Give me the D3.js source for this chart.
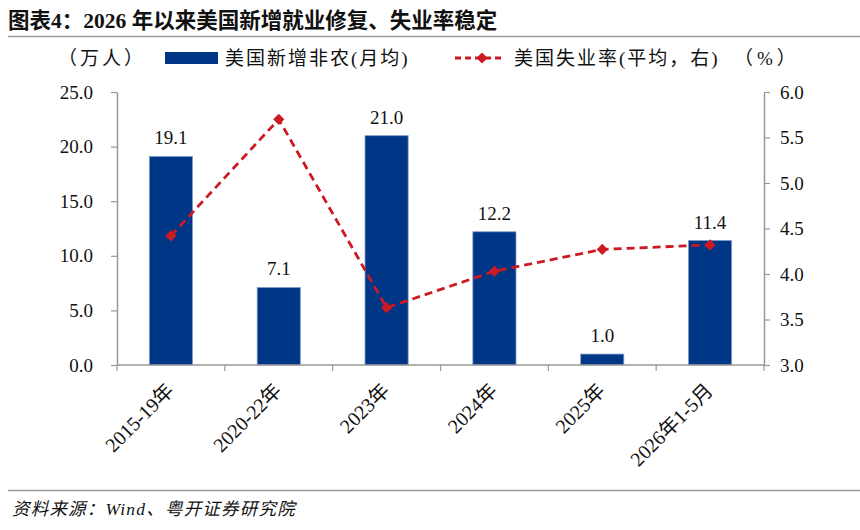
<!DOCTYPE html>
<html>
<head>
<meta charset="utf-8">
<script src="https://cdn.jsdelivr.net/npm/d3@7"></script>
<style>
  body { margin: 0; background: #fff; }
  svg text { font-family: "Liberation Serif", "Times New Roman", "Noto Sans CJK SC", serif; }
</style>
</head>
<body>
<div id="chart"></div>
<script>
const categories = ['2015-19年', '2020-22年', '2023年', '2024年', '2025年', '2026年1-5月'];
const payrolls = [19.1, 7.1, 21.0, 12.2, 1.0, 11.4];
const unemployment = [4.42, 5.7, 3.63, 4.03, 4.27, 4.32];
const leftTicks = [0, 5, 10, 15, 20, 25];
const rightTicks = [3.0, 3.5, 4.0, 4.5, 5.0, 5.5, 6.0];

const width = 860, height = 530;
const margin = { left: 117, right: 96, top: 92, bottom: 165 };

const svg = d3.select('#chart')
  .append('svg')
  .attr('width', width)
  .attr('height', height);

// title
svg.append('text')
  .attr('x', 8)
  .attr('y', 28)
  .attr('font-size', '21.5px')
  .attr('font-weight', 'bold')
  .attr('fill', '#111')
  .text('图表4：2026 年以来美国新增就业修复、失业率稳定');

svg.append('line')
  .attr('x1', 8).attr('x2', 860)
  .attr('y1', 36.5).attr('y2', 36.5)
  .attr('stroke', '#999').attr('stroke-width', 1.5);

const x = d3.scaleBand()
  .domain(categories)
  .range([margin.left, width - margin.right])
  .paddingInner(0.6)
  .paddingOuter(0.3);

const yL = d3.scaleLinear()
  .domain([0, 25])
  .range([height - margin.bottom, margin.top]);

const yR = d3.scaleLinear()
  .domain([3, 6])
  .range([height - margin.bottom, margin.top]);

const axisColor = '#999';

// bars
svg.append('g')
  .selectAll('rect')
  .data(payrolls)
  .join('rect')
  .attr('x', (d, i) => x(categories[i]))
  .attr('y', d => yL(d))
  .attr('width', x.bandwidth())
  .attr('height', d => yL(0) - yL(d))
  .attr('fill', '#003686')
  .attr('stroke', '#7e9cc8')
  .attr('stroke-width', 0.8);

svg.append('g')
  .selectAll('text')
  .data(payrolls)
  .join('text')
  .attr('x', (d, i) => x(categories[i]) + x.bandwidth() / 2)
  .attr('y', d => yL(d) - 12)
  .attr('text-anchor', 'middle')
  .attr('font-size', '19px')
  .attr('fill', '#111')
  .text(d => d.toFixed(1));

// left axis
const leftAxis = svg.append('g')
  .attr('transform', `translate(${margin.left},0)`)
  .call(d3.axisLeft(yL).tickValues(leftTicks).tickFormat(d3.format('.1f')).tickSize(6).tickSizeOuter(0));
leftAxis.select('.domain').attr('stroke', axisColor).attr('stroke-width', 1.5);
leftAxis.selectAll('.tick line').attr('stroke', axisColor).attr('stroke-width', 1.2);
leftAxis.selectAll('.tick text').attr('font-size', '19px').attr('fill', '#111')
  .attr('font-family', '"Liberation Serif", serif').attr('x', -24);

// right axis
const rightAxis = svg.append('g')
  .attr('transform', `translate(${width - margin.right},0)`)
  .call(d3.axisRight(yR).tickValues(rightTicks).tickFormat(d3.format('.1f')).tickSize(6).tickSizeOuter(0));
rightAxis.select('.domain').attr('stroke', axisColor).attr('stroke-width', 1.5);
rightAxis.selectAll('.tick line').attr('stroke', axisColor).attr('stroke-width', 1.2);
rightAxis.selectAll('.tick text').attr('font-size', '19px').attr('fill', '#111')
  .attr('font-family', '"Liberation Serif", serif').attr('x', 16);

// bottom axis: ticks sit between the categories
const xEdges = d3.range(categories.length + 1).map(i => margin.left + i * (width - margin.right - margin.left) / categories.length);
const bottom = svg.append('g');
bottom.append('line')
  .attr('x1', margin.left).attr('x2', width - margin.right)
  .attr('y1', yL(0)).attr('y2', yL(0))
  .attr('stroke', axisColor).attr('stroke-width', 1.5);
bottom.selectAll('line.tick')
  .data(xEdges)
  .join('line')
  .attr('class', 'tick')
  .attr('x1', d => d).attr('x2', d => d)
  .attr('y1', yL(0)).attr('y2', yL(0) + 6)
  .attr('stroke', axisColor).attr('stroke-width', 1.2);
bottom.selectAll('text')
  .data(categories)
  .join('text')
  .attr('transform', d => `translate(${x(d) + x.bandwidth() / 2 - 1},${yL(0) + 22}) rotate(-45)`)
  .attr('text-anchor', 'end')
  .attr('dy', '0.35em')
  .attr('font-size', '20px')
  .attr('fill', '#111')
  .text(d => d);

// unemployment line
const line = d3.line()
  .x((d, i) => x(categories[i]) + x.bandwidth() / 2)
  .y(d => yR(d));

const red = '#cc1a24';
svg.append('path')
  .datum(unemployment)
  .attr('d', line)
  .attr('fill', 'none')
  .attr('stroke', red)
  .attr('stroke-width', 2.8)
  .attr('stroke-dasharray', '8,5');

const diamond = d3.symbol().type(d3.symbolDiamond2).size(80);
svg.append('g')
  .selectAll('path')
  .data(unemployment)
  .join('path')
  .attr('d', diamond)
  .attr('transform', (d, i) => `translate(${x(categories[i]) + x.bandwidth() / 2},${yR(d)})`)
  .attr('fill', red);

// legend
const legendY = 58;
const legend = svg.append('g').attr('font-size', '19px').attr('fill', '#111');
legend.append('text').attr('x', 58).attr('y', legendY).attr('dy', '0.35em')
  .attr('letter-spacing', 3).text('（万人）');
legend.append('rect').attr('x', 165).attr('y', legendY - 6).attr('width', 53).attr('height', 12).attr('fill', '#003686');
legend.append('text').attr('x', 225).attr('y', legendY).attr('dy', '0.35em')
  .attr('letter-spacing', 2).text('美国新增非农(月均)');
legend.append('line')
  .attr('x1', 455).attr('x2', 505).attr('y1', legendY).attr('y2', legendY)
  .attr('stroke', red).attr('stroke-width', 2.8).attr('stroke-dasharray', '6,4');
legend.append('path').attr('d', diamond).attr('transform', `translate(482,${legendY})`).attr('fill', red);
legend.append('text').attr('x', 514).attr('y', legendY).attr('dy', '0.35em')
  .attr('letter-spacing', 2).text('美国失业率(平均，右)');
legend.append('text').attr('x', 734).attr('y', legendY).attr('dy', '0.35em')
  .attr('letter-spacing', 4).text('（%）');

// source
svg.append('line')
  .attr('x1', 8).attr('x2', 860)
  .attr('y1', 490.5).attr('y2', 490.5)
  .attr('stroke', '#999').attr('stroke-width', 1.5);
svg.append('text')
  .attr('x', 12)
  .attr('y', 515)
  .attr('font-size', '17.5px')
  .attr('font-style', 'italic')
  .attr('letter-spacing', 1.2)
  .attr('fill', '#111')
  .text('资料来源：Wind、粤开证券研究院');
</script>
</body>
</html>
